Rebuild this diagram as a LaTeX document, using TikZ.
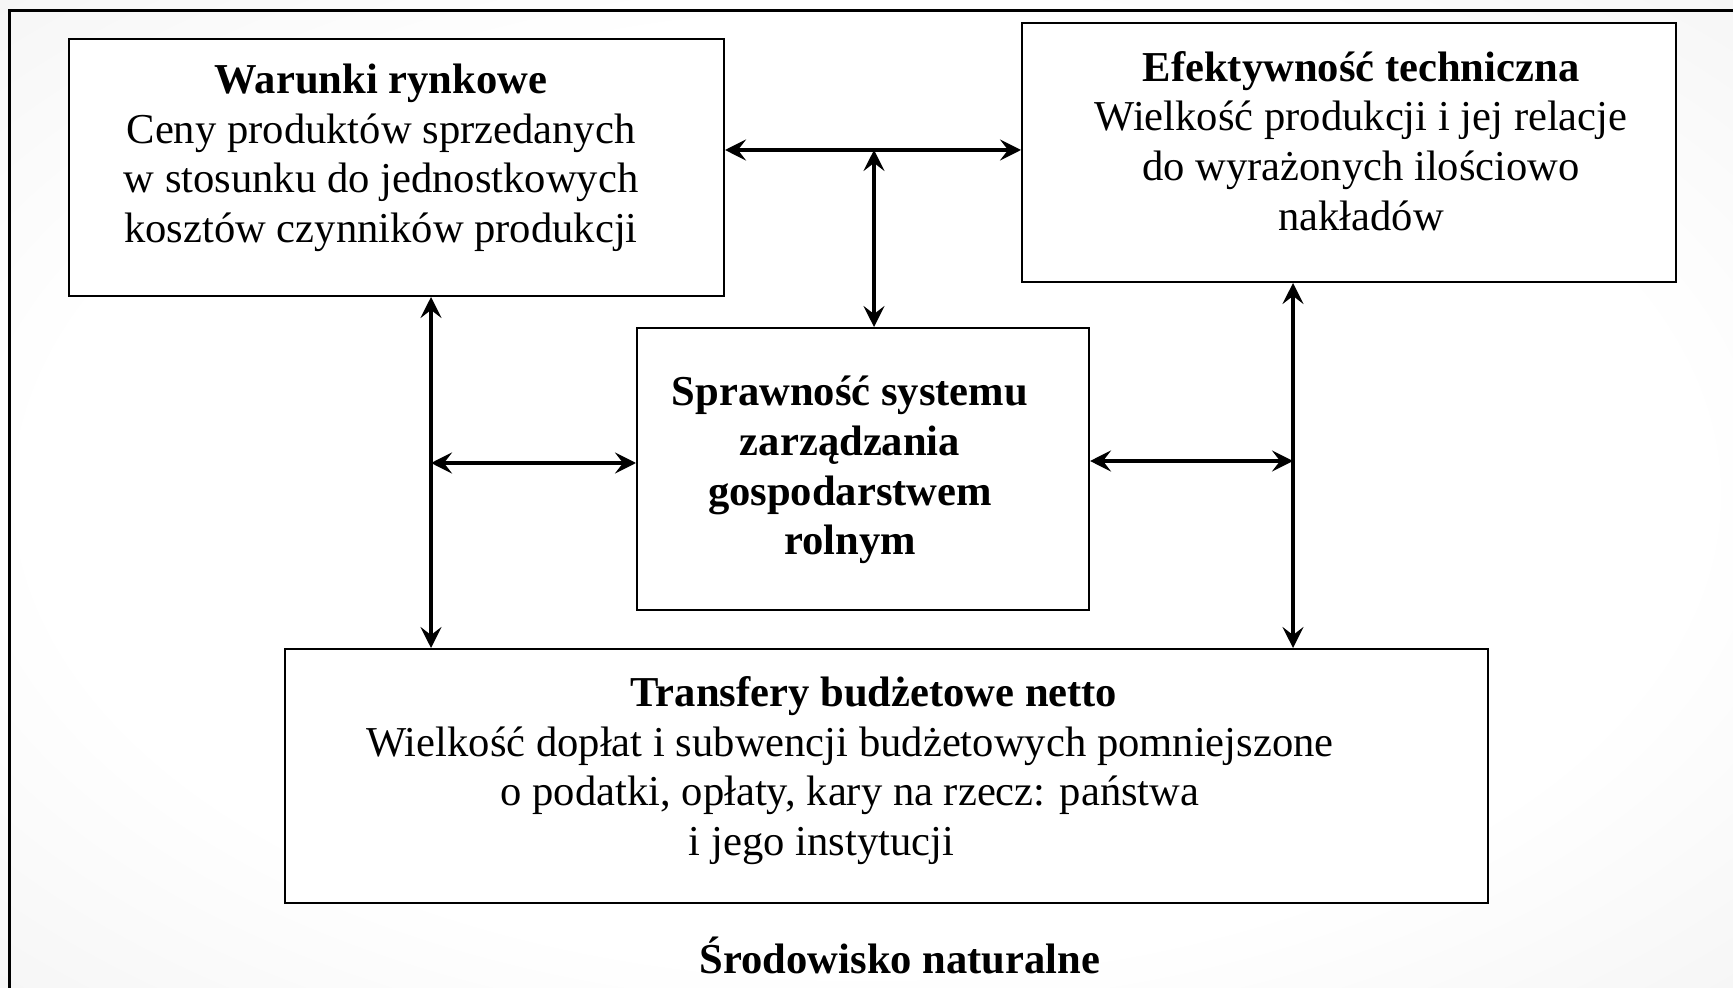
\documentclass[tikz,border=0pt]{standalone}
\usepackage{fontspec}
\setmainfont{Liberation Serif}
\usetikzlibrary{arrows.meta}
\pgfdeclareradialshading{slidebg}{\pgfpointorigin}{color(0bp)=(white); color(24bp)=(white); color(50bp)=(black!8); color(71bp)=(black!14)}
\tikzset{
  box/.style={draw=black, line width=1pt, fill=white, inner sep=0pt},
  txt/.style={align=center, inner sep=0pt, font=\fontsize{21.3}{24.8}\selectfont},
  dbl/.style={{Stealth[length=10.5pt,width=10.5pt,inset=4pt]}-{Stealth[length=10.5pt,width=10.5pt,inset=4pt]}, line width=1.6pt},
}

\begin{document}
\begin{tikzpicture}[x=0.5pt, y=-0.5pt]
        \useasboundingbox (0,0) rectangle (1733,988);
        \shade[shading=slidebg] (0,0) rectangle (1733,988);
        \draw[line width=1.5pt] (9,988) -- (9,11) -- (1733,11);

        % boxes
        \node[box, minimum width=327.5pt, minimum height=128.5pt] (wr) at (396.5,167.5) {};
        \node[box, minimum width=327pt, minimum height=129.5pt] (et) at (1349,152.5) {};
        \node[box, minimum width=226pt, minimum height=141pt] (ss) at (863,469) {};
        \node[box, minimum width=601.5pt, minimum height=127pt] (tb) at (886.5,776) {};

        % texts
        \node[txt] (wrt) at (381,158) {\textbf{Warunki rynkowe}\\
          Ceny produktów sprzedanych\\
          w stosunku do jednostkowych\\
          kosztów czynników produkcji};
        \node[txt] (ett) at (1361,141) {\textbf{Efektywność techniczna}\\
          Wielkość produkcji i jej relacje\\
          do wyrażonych ilościowo\\
          nakładów};
        \node[txt, font=\fontsize{21.3}{24.8}\selectfont\bfseries] (sst) at (850,470) {Sprawność systemu\\
          zarządzania\\
          gospodarstwem\\
          rolnym};
        \node[txt] (tbt) at (850,770.5) {\textbf{Transfery budżetowe netto}\hspace*{-24pt}\\
          Wielkość dopłat i subwencji budżetowych pomniejszone\\
          o podatki, opłaty, kary na rzecz: państwa\\
          i jego instytucji\hspace*{28.5pt}};
        \node[txt, font=\fontsize{21.3}{24.8}\selectfont\bfseries] (sn) at (900,955) {Środowisko naturalne};

        % links
        \coordinate (mtop) at (874,150);
        \coordinate (lmid) at (431,463);
        \coordinate (rmid) at (1293,461);
        \draw[dbl] (wr.east |- mtop) -- (et.west |- mtop);
        \draw[dbl] (mtop) -- (mtop |- ss.north);
        \draw[dbl] (wr.south -| lmid) -- (tb.north -| lmid);
        \draw[dbl] (lmid) -- (ss.west |- lmid);
        \draw[dbl] (et.south -| rmid) -- (tb.north -| rmid);
        \draw[dbl] (ss.east |- rmid) -- (rmid);
    \end{tikzpicture}
\end{document}
